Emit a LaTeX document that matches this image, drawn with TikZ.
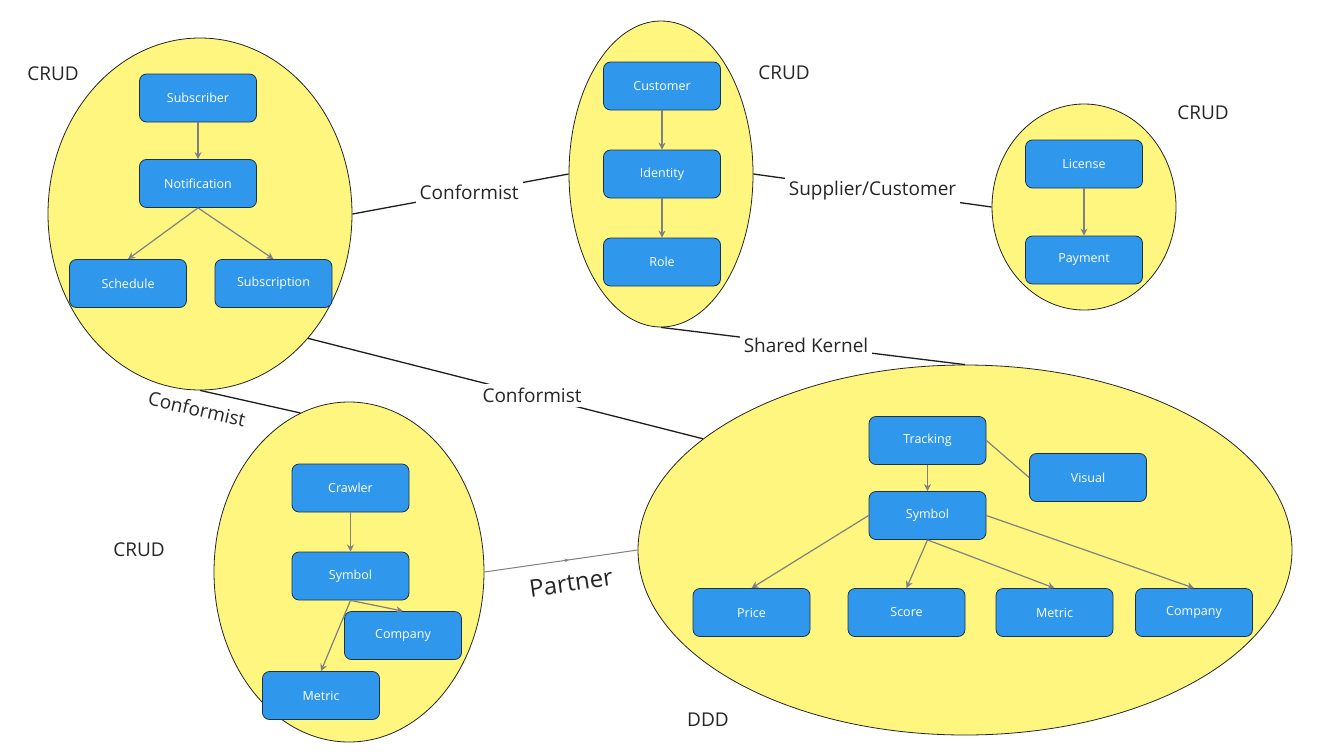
\documentclass[tikz,border=0pt]{standalone}
\usepackage{fontspec}
\setmainfont{Open Sans}
\usetikzlibrary{shapes.geometric,arrows.meta,decorations.markings}
\definecolor{ellfill}{RGB}{255,246,128}
\definecolor{boxfill}{RGB}{47,152,236}
\definecolor{boxline}{RGB}{30,50,70}
\definecolor{arrgray}{RGB}{128,128,128}
\definecolor{connc}{RGB}{30,30,30}
\begin{document}
\begin{tikzpicture}[x=1pt,y=-1pt,
 ctx/.style={ellipse, draw=black!85, line width=0.8pt, fill=ellfill, inner sep=0pt},
 entity/.style={rectangle, rounded corners=7pt, draw=boxline, line width=0.8pt, fill=boxfill, text=white, minimum width=117pt, minimum height=48pt, inner sep=0pt, font=\fontsize{12.5}{15}\selectfont},
 rel/.style={draw=arrgray, line width=1.2pt, -{Stealth[length=7pt,width=7pt]}},
 link/.style={draw=arrgray, line width=1.2pt},
 connline/.style={draw=connc, line width=1.3pt},
 lbl/.style={font=\fontsize{19}{22}\selectfont, text=black!85, inner sep=0pt},
 connlbl/.style={lbl, fill=white, inner sep=4pt},
]
\useasboundingbox (0,0) rectangle (1324,755);
\fill[white] (0,0) rectangle (1324,755);

% bounded contexts
\node[ctx, minimum width=304pt, minimum height=352pt] (A) at (200,214) {};
\node[ctx, minimum width=184pt, minimum height=306pt] (B) at (661,174) {};
\node[ctx, minimum width=184pt, minimum height=206pt] (C) at (1084,207) {};
\node[ctx, minimum width=270pt, minimum height=340pt] (D) at (349,572) {};
\node[ctx, minimum width=654pt, minimum height=370pt] (E) at (965,550) {};

% context labels
\node[lbl] (lA) at (53,74) {CRUD};
\node[lbl] (lB) at (784,73) {CRUD};
\node[lbl] (lC) at (1203,113) {CRUD};
\node[lbl] (lD) at (139,550) {CRUD};
\node[lbl] (lE) at (708,720) {DDD};

% context A
\node[entity] (subscriber) at (198,98) {Subscriber};
\node[entity] (notification) at (198,183.5) {Notification};
\node[entity] (schedule) at (128,283.5) {Schedule};
\node[entity] (subscription) at (273.5,283.5) {Subscription};
\draw[rel] (subscriber.south) -- (notification.north);
\draw[rel] (notification.south) -- (schedule.north);
\draw[rel] (notification.south) -- (subscription.north);

% context B
\node[entity] (customer) at (662,86) {Customer};
\node[entity] (identity) at (662,174) {Identity};
\node[entity] (role) at (662,262) {Role};
\draw[rel] (customer.south) -- (identity.north);
\draw[rel] (identity.south) -- (role.north);

% context C
\node[entity] (license) at (1084,164) {License};
\node[entity] (payment) at (1084,260) {Payment};
\draw[rel] (license.south) -- (payment.north);

% context D
\node[entity] (crawler) at (350.5,488) {Crawler};
\node[entity] (dsymbol) at (350.5,576) {Symbol};
\node[entity] (dcompany) at (403,635.5) {Company};
\node[entity] (dmetric) at (321,695.5) {Metric};
\draw[rel] (crawler.south) -- (dsymbol.north);
\draw[rel] (dsymbol.south) -- (dcompany.north);
\draw[rel] (dsymbol.south) -- (dmetric.north);

% context E
\node[entity] (tracking) at (927.5,440.5) {Tracking};
\node[entity] (visual) at (1088,477.5) {Visual};
\node[entity] (esymbol) at (927.5,515.5) {Symbol};
\node[entity] (price) at (751.5,612.5) {Price};
\node[entity] (score) at (906.5,612.5) {Score};
\node[entity] (emetric) at (1054.5,612.5) {Metric};
\node[entity] (ecompany) at (1194,612.5) {Company};
\draw[rel] (tracking.south) -- (esymbol.north);
\draw[link] (tracking.east) -- (visual.west);
\draw[rel] (esymbol.west) -- (price.north);
\draw[rel] (esymbol.south) -- (score.north);
\draw[rel] (esymbol.south) -- (emetric.north);
\draw[rel] (esymbol.east) -- (ecompany.north);

% context map relations
\draw[connline] (A.east) -- node[connlbl, pos=0.54] (r1) {Conformist} (B.west);
\draw[connline] (B.east) -- node[connlbl, pos=0.5] (r2) {Supplier/Customer} (C.west);
\draw[connline] (B.south) -- node[connlbl, pos=0.477] (r3) {Shared Kernel} (E.north);
\draw[connline] (A.-49) -- node[connlbl, pos=0.567] (r4) {Conformist} (E.157.5);
\draw[connline] (A.south) -- (D.107);
\node[lbl, rotate=-13] (r5) at (197,409) {Conformist};
\draw[link, line width=1pt, postaction={decorate},
  decoration={markings, mark=at position 0.55 with {\arrow{Stealth[length=4pt,width=4pt]}}}]
  (D.east) -- (E.west);
\node[lbl, font=\fontsize{24}{28}\selectfont, rotate=8] (r6) at (571,583) {Partner};
\end{tikzpicture}
\end{document}
